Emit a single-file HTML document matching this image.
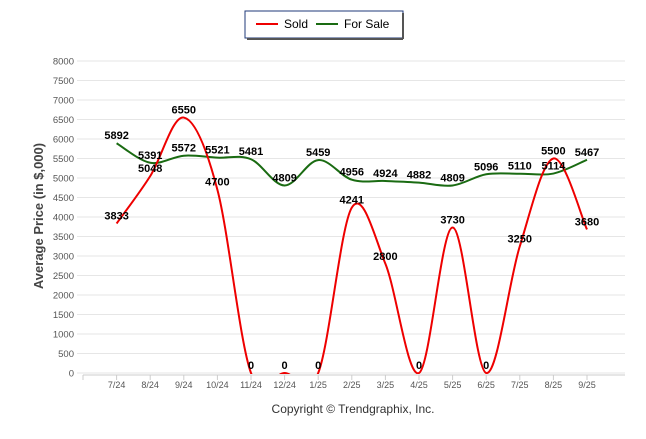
<!DOCTYPE html>
<html><head><meta charset="utf-8"><style>
body{margin:0;background:#fff;font-family:"Liberation Sans",sans-serif}
</style></head><body>
<svg id="c" width="646" height="434" xmlns="http://www.w3.org/2000/svg">
<rect x="245" y="11" width="158" height="27" fill="#fff" stroke="#1f3a7a" stroke-width="1"/>
<line x1="403" y1="13" x2="403" y2="39" stroke="#555" stroke-width="2"/>
<line x1="247" y1="39" x2="403" y2="39" stroke="#555" stroke-width="2"/>
<g><line x1="256" y1="24" x2="278" y2="24" stroke="#e00" stroke-width="2"/><text x="284" y="28" font-size="12">Sold</text></g>
<g><line x1="316" y1="24" x2="338" y2="24" stroke="#1a6b12" stroke-width="2"/><text x="344" y="28" font-size="12">For Sale</text></g>
<text x="43" y="216" font-size="13" font-weight="bold" fill="#444" text-anchor="middle" transform="rotate(-90 43 216)">Average Price (in $,000)</text>
<text x="353" y="413" font-size="12" fill="#333" text-anchor="middle">Copyright © Trendgraphix, Inc.</text>
<g id="grid"></g><g id="series"></g><g id="labels"></g>
</svg>
<script>
const categories=["7/24","8/24","9/24","10/24","11/24","12/24","1/25","2/25","3/25","4/25","5/25","6/25","7/25","8/25","9/25"];
const sold=[3833,5048,6550,4700,0,0,0,4241,2800,0,3730,0,3250,5500,3680];
const forSale=[5892,5391,5572,5521,5481,4809,5459,4956,4924,4882,4809,5096,5110,5114,5467];
const yTicks=[0,500,1000,1500,2000,2500,3000,3500,4000,4500,5000,5500,6000,6500,7000,7500,8000];
const NS="http://www.w3.org/2000/svg";
const X0=83,STEP=33.6,Y0=373,Y1=61,YMAX=8000;
const xs=i=>X0+STEP*(i+1);
const ys=v=>Y0-(v/YMAX)*(Y0-Y1);
function mk(t,a,p){const e=document.createElementNS(NS,t);for(const k in a)e.setAttribute(k,a[k]);p.appendChild(e);return e;}
const g=document.getElementById('grid');
yTicks.forEach(v=>{
 const l=mk('line',{x1:77,x2:625,y1:ys(v),y2:ys(v),stroke:'#e6e6e6'},g);
 
 
 const t=mk('text',{x:74,y:ys(v)+3.5,'font-size':9.5,fill:'#555','text-anchor':'end'},g);t.textContent=v;
 
 
});
mk('line',{x1:83,x2:625,y1:Y0+2,y2:Y0+2,stroke:'#ccc'},g);
for(let i=0;i<=categories.length;i++)mk('line',{x1:X0+STEP*i,x2:X0+STEP*i,y1:Y0+2,y2:Y0+7,stroke:'#ccc'},g);
categories.forEach((c,i)=>{
 const t=mk('text',{x:xs(i),y:388,'font-size':9,fill:'#555','text-anchor':'middle'},g);t.textContent=c;
 
 
});
function path(vals){
 const p=vals.map((v,i)=>[xs(i),ys(v)]);let d=`M${p[0][0]},${p[0][1]}`;
 for(let i=0;i<p.length-1;i++){const a=p[i-1]||p[i],b=p[i],c=p[i+1],e=p[i+2]||c;const k=1/6;
 d+=`C${b[0]+(c[0]-a[0])*k},${b[1]+(c[1]-a[1])*k} ${c[0]-(e[0]-b[0])*k},${c[1]-(e[1]-b[1])*k} ${c[0]},${c[1]}`;}
 return d;}
const s=document.getElementById('series');
mk('clipPath',{id:'cl'},s);mk('rect',{x:77,y:55,width:550,height:Y0-55+1},document.getElementById('cl'));
const fp=mk('path',{d:path(forSale),fill:'none',stroke:'#1a6b12','stroke-width':2,'clip-path':'url(#cl)'},s);


const sp=mk('path',{d:path(sold),fill:'none',stroke:'#e00','stroke-width':2,'clip-path':'url(#cl)'},s);


const L=document.getElementById('labels');
function lab(vals,name){vals.forEach((v,i)=>{const t=mk('text',{x:xs(i),y:ys(v)-4,'font-size':11,'font-weight':'bold','text-anchor':'middle'},L);t.textContent=v;
 
 });}
lab(forSale,'for-sale-value-label');
lab(sold,'sold-value-label');
</script>
</body></html>
